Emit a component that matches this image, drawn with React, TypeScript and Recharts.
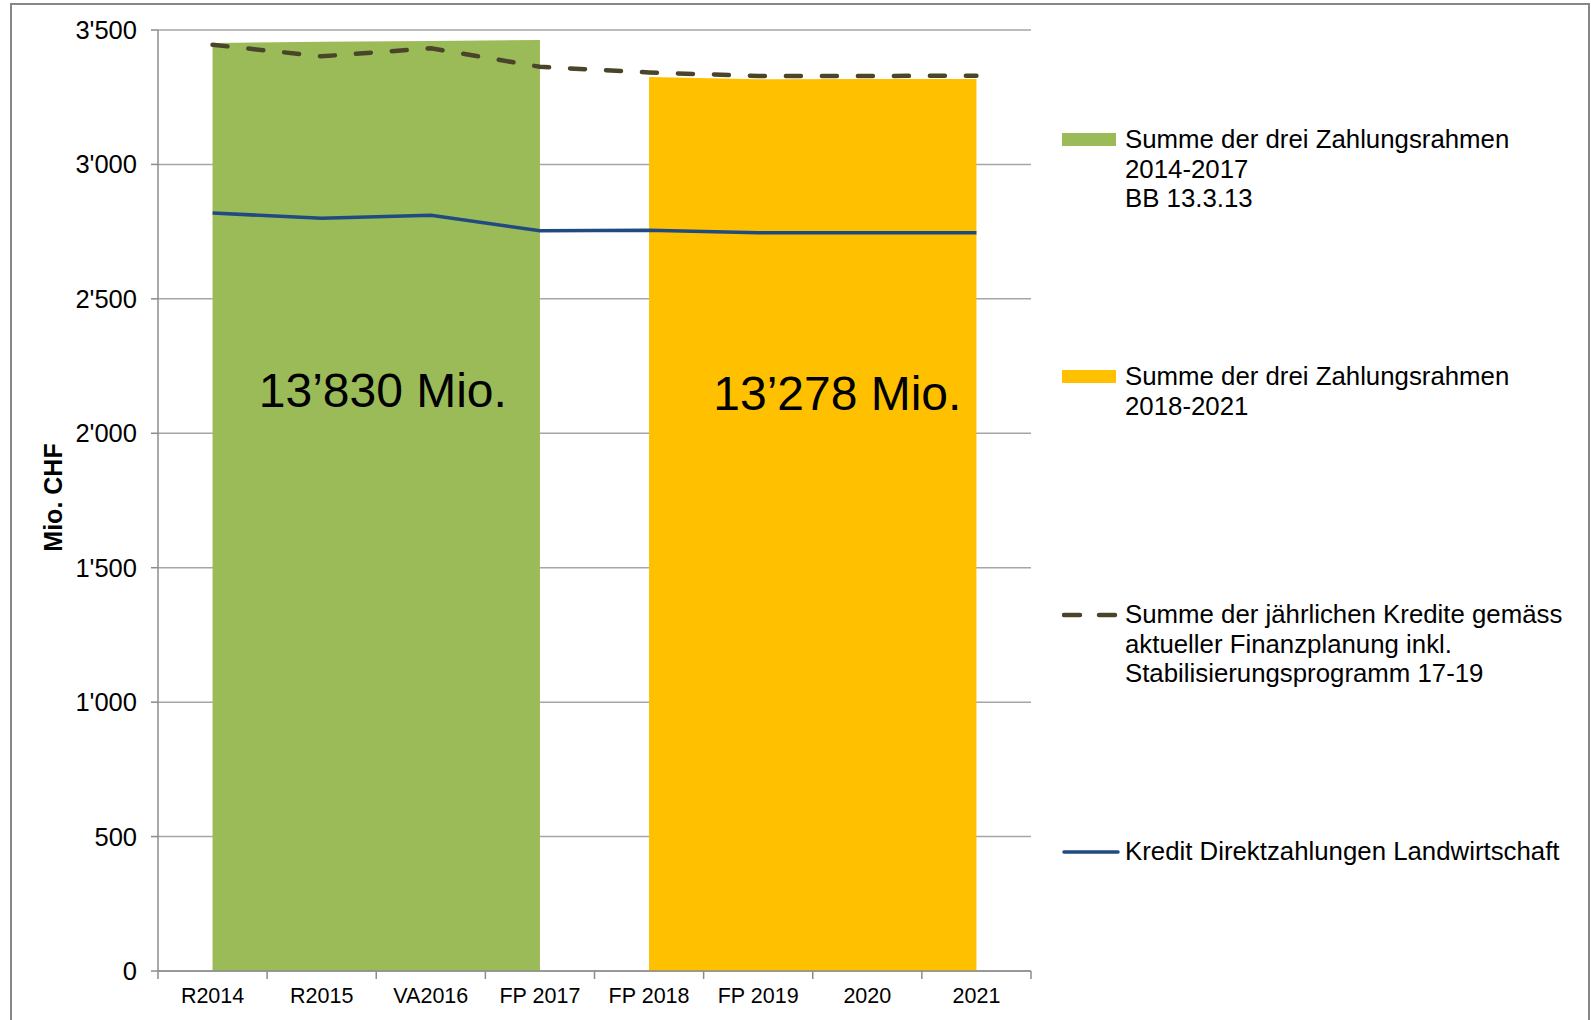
import { ComposedChart, Area, Line, XAxis, YAxis, CartesianGrid, ReferenceDot, Label } from 'recharts';

const categories = ['R2014', 'R2015', 'VA2016', 'FP 2017', 'FP 2018', 'FP 2019', '2020', '2021'];
const rahmen2014 = [3452, 3456, 3459, 3463, null, null, null, null];
const rahmen2018 = [null, null, null, null, 3325, 3317, 3318, 3318];
const krediteTotal = [3445, 3402, 3432, 3363, 3342, 3329, 3329, 3330];
const direktzahlungen = [2819, 2800, 2811, 2753, 2755, 2746, 2746, 2746];
const yTicks = [0, 500, 1000, 1500, 2000, 2500, 3000, 3500];
const totalTexts = ['13’830 Mio.', '13’278 Mio.'];

const legendNames = [
  'Summe der drei Zahlungsrahmen\n2014-2017\nBB 13.3.13',
  'Summe der drei Zahlungsrahmen\n2018-2021',
  'Summe der jährlichen Kredite gemäss\naktueller Finanzplanung inkl.\nStabilisierungsprogramm 17-19',
  'Kredit Direktzahlungen Landwirtschaft',
];

const GREEN = '#9BBB59';
const YELLOW = '#FFC000';
const OLIVE = '#4A452A';
const BLUE = '#214A80';
const AXIS = '#8c8c8c';
const GRID = '#a6a6a6';
const FONT = '"Liberation Sans", Arial, sans-serif';

const W = 1591;
const H = 1020;
const Y_AXIS_W = 158;
const RIGHT = 560;
const PLOT_W = W - Y_AXIS_W - RIGHT;
const BAND = PLOT_W / categories.length;

const data = categories.map((cat, i) => ({
  cat,
  r14: rahmen2014[i],
  r18: rahmen2018[i],
  kred: krediteTotal[i],
  dz: direktzahlungen[i],
}));

const fmt = (v: number) => String(v).replace(/\B(?=(\d{3})+(?!\d))/g, "'");

function XTick(props: any) {
  const { x, y, payload, index } = props;
  const last = index === categories.length - 1;
  return (
    <g>
      <line x1={x - BAND / 2} x2={x - BAND / 2} y1={y - 8} y2={y} stroke={AXIS} strokeWidth={1.5} />
      {last && <line x1={x + BAND / 2} x2={x + BAND / 2} y1={y - 8} y2={y} stroke={AXIS} strokeWidth={1.5} />}
      <text x={x} y={y + 17} textAnchor="middle" dominantBaseline="central" fontSize={21.5} fill="#000" fontFamily={FONT}>
        {payload.value}
      </text>
    </g>
  );
}

const bigLabel = (text: string, dx: number) => (p: any) => (
  <text
    x={p.viewBox.x + dx}
    y={p.viewBox.y}
    textAnchor="middle"
    dominantBaseline="central"
    fontSize={48}
    fill="#000"
    fontFamily={FONT}
  >
    {text}
  </text>
);

function LegendSwatch({ i }: { i: number }) {
  if (i === 0 || i === 1) {
    return <div style={{ width: 54, height: 13, background: i === 0 ? GREEN : YELLOW }} />;
  }
  return (
    <svg width={58} height={8} style={{ display: 'block' }}>
      <line
        x1={2}
        x2={56}
        y1={4}
        y2={4}
        stroke={i === 2 ? OLIVE : BLUE}
        strokeWidth={i === 2 ? 4.5 : 3.5}
        strokeDasharray={i === 2 ? '16 19' : undefined}
        strokeLinecap="round"
      />
    </svg>
  );
}

const legendTops = [125, 362, 600, 837];

export default function App() {
  return (
    <div style={{ position: 'absolute', left: 0, top: 0, width: W, height: H, overflow: 'hidden', background: '#fff', fontFamily: FONT }}>
      <div style={{ position: 'absolute', left: 10, top: 3, width: 1576, height: 1040, border: '2px solid #878787' }} />
      <div style={{ position: 'absolute', left: 0, top: 0 }}>
        <ComposedChart width={W} height={H} data={data} margin={{ top: 30, right: RIGHT, bottom: 0, left: 0 }}>
          <CartesianGrid vertical={false} stroke={GRID} strokeWidth={1.5} />
          <XAxis
            dataKey="cat"
            scale="band"
            height={49}
            axisLine={{ stroke: AXIS, strokeWidth: 1.5 }}
            tickLine={false}
            tickSize={8}
            tickMargin={0}
            interval={0}
            tick={<XTick />}
          />
          <YAxis
            width={Y_AXIS_W}
            domain={[0, 3500]}
            ticks={yTicks}
            tickFormatter={fmt}
            axisLine={{ stroke: AXIS, strokeWidth: 1.5 }}
            tickLine={{ stroke: AXIS, strokeWidth: 1.5 }}
            tickSize={7}
            tickMargin={14}
            tick={{ fontSize: 25.5, fill: '#000', fontFamily: FONT }}
          >
            <Label
              content={(p: any) => {
                const cx = 53;
                const cy = p.viewBox.y + p.viewBox.height / 2 - 3;
                return (
                  <text
                    x={cx}
                    y={cy}
                    transform={`rotate(-90, ${cx}, ${cy})`}
                    textAnchor="middle"
                    dominantBaseline="central"
                    fontSize={25}
                    fontWeight="bold"
                    fill="#000"
                    fontFamily={FONT}
                  >
                    Mio. CHF
                  </text>
                );
              }}
            />
          </YAxis>
          <Area type="linear" dataKey="r14" stroke="none" fill={GREEN} fillOpacity={1} dot={false} activeDot={false} isAnimationActive={false} />
          <Area type="linear" dataKey="r18" stroke="none" fill={YELLOW} fillOpacity={1} dot={false} activeDot={false} isAnimationActive={false} />
          <Line
            type="linear"
            dataKey="kred"
            stroke={OLIVE}
            strokeWidth={4.5}
            strokeDasharray="15 21"
            strokeLinecap="round"
            dot={false}
            activeDot={false}
            isAnimationActive={false}
          />
          <Line
            type="linear"
            dataKey="dz"
            stroke={BLUE}
            strokeWidth={3.5}
            strokeLinejoin="round"
            dot={false}
            activeDot={false}
            isAnimationActive={false}
          />
          <ReferenceDot x="VA2016" y={2159} r={0} fill="none" stroke="none" label={bigLabel(totalTexts[0], -48)} />
          <ReferenceDot x="2020" y={2148} r={0} fill="none" stroke="none" label={bigLabel(totalTexts[1], -30)} />
        </ComposedChart>
      </div>
      {legendNames.map((name, i) => (
        <div
          key={name}
          style={{ position: 'absolute', left: 1062, top: legendTops[i], display: 'flex', alignItems: 'flex-start' }}
        >
          <div style={{ width: 63, height: 29.5, display: 'flex', alignItems: 'center' }}>
            <LegendSwatch i={i} />
          </div>
          <div style={{ whiteSpace: 'pre', fontSize: 25.8, lineHeight: '29.5px', color: '#000' }}>{name}</div>
        </div>
      ))}
    </div>
  );
}
